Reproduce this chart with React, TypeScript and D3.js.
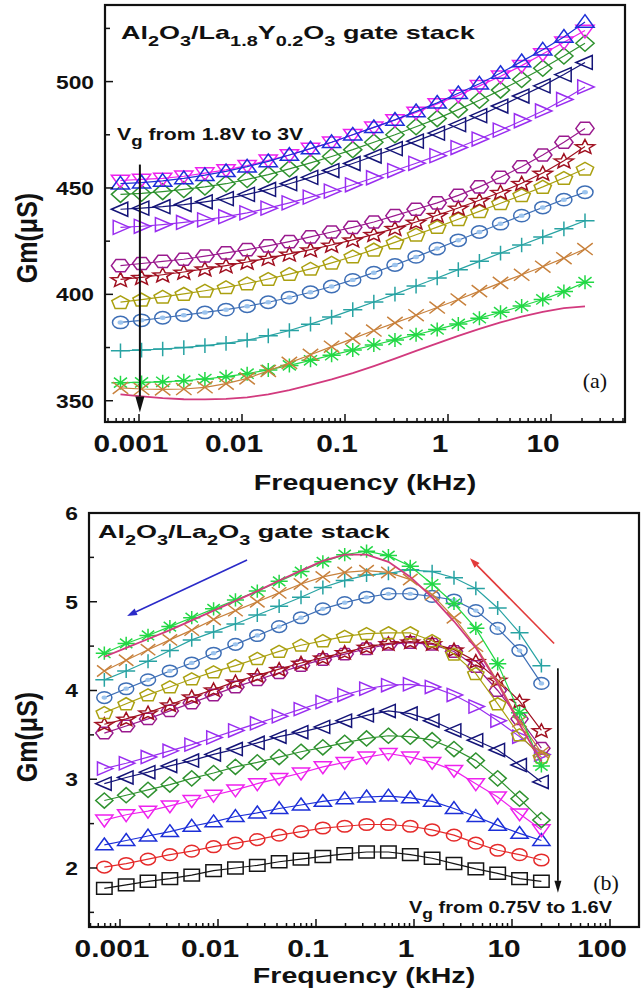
import React from "react";
import * as d3 from "d3";

// ---------------- DATA ----------------
// Panel (a): Al2O3/La1.8Y0.2O3, Gm (uS) vs frequency (kHz)
const freqA = [0.000661, 0.001059, 0.001698, 0.002723, 0.004365, 0.006998, 0.01122, 0.01799, 0.02884, 0.04624, 0.07413, 0.1189, 0.1905, 0.3055, 0.4898, 0.7852, 1.259, 2.018, 3.236, 5.188, 8.318, 13.34, 21.38];
const triUpA = [452, 452.5, 453.3, 454.5, 456, 457.8, 460, 462.5, 465.5, 468.5, 471.5, 475, 478.5, 482, 486, 490, 494.5, 499, 504, 509.5, 515, 521, 528];
const triDownA = [453.5, 454, 454.5, 455.5, 457, 458.5, 460.5, 463, 465.5, 468.5, 471.5, 475, 478.5, 482, 485.5, 489.5, 493.5, 498, 502.5, 507.5, 513, 518.5, 524];
const diamondA = [447, 447.5, 448.3, 449.3, 450.5, 452, 454, 456.3, 459, 461.8, 464.8, 468, 471.5, 475, 478.8, 482.6, 486.8, 491.2, 496, 501, 506.3, 512, 518];
const triLeftA = [440, 440.5, 441.2, 442.2, 443.5, 445, 447, 449.3, 452, 455, 458.2, 461.5, 465, 468.5, 472, 475.8, 479.8, 484, 488.5, 493.2, 498, 503.3, 509];
const triRightA = [431.5, 432, 432.8, 433.8, 435, 436.5, 438.3, 440.5, 443, 445.7, 448.5, 451.5, 454.8, 458.2, 461.6, 465.2, 469, 473, 477.2, 481.6, 486.2, 491.6, 497.5];
const hexA = [413.5, 414.5, 415.5, 416.5, 418, 419.5, 421, 422.8, 424.8, 427, 429.3, 431.5, 434, 437, 440, 443, 446.5, 450.5, 455, 460, 465.5, 471.5, 478];
const starA = [407, 408, 409.2, 410.5, 412, 413.5, 415.2, 417, 419, 421, 423.2, 425.6, 428.2, 431, 434, 437.2, 440.6, 444.2, 448, 452.2, 457, 462.8, 469.5];
const pentA = [396.3, 397.5, 398.8, 400.2, 401.7, 403.3, 405.1, 407.2, 409.5, 412, 414.8, 417.8, 421, 424.4, 428, 431.6, 435.3, 439, 442.8, 446.6, 450.5, 454.7, 459];
const circA = [386.8, 387.8, 389, 390.2, 391.5, 392.8, 394.4, 396.3, 398.5, 401, 403.7, 406.8, 410.2, 413.8, 417.6, 421.5, 425.4, 429.3, 433.2, 437, 440.8, 444.5, 448];
const plusA = [373.5, 373.8, 374.3, 375, 375.9, 377, 378.5, 380.5, 383, 386, 389.3, 392.8, 396.4, 400.1, 403.9, 407.7, 411.6, 415.5, 419.4, 423.2, 427, 430.8, 434.6];
const crossA = [356, 355.5, 355.3, 355.5, 356.3, 358, 360.5, 364, 367.8, 371.6, 375.4, 379.2, 383, 386.6, 390.2, 393.8, 397.6, 401.5, 405.4, 409.2, 413, 417, 421.3];
const asterA = [358.5, 358.6, 358.9, 359.4, 360.2, 361.3, 362.7, 364.5, 366.6, 369, 371.4, 373.8, 376.2, 378.6, 381, 383.5, 386.1, 388.8, 391.6, 394.5, 397.6, 401.3, 405.7];
const lineA = [353, 352, 351.2, 350.7, 350.6, 350.9, 351.6, 353, 355, 357.4, 360, 363, 366.3, 369.8, 373.4, 377, 380.5, 383.8, 386.8, 389.5, 391.8, 393.5, 394.3];

// Panel (b): Al2O3/La2O3, Gm (uS) vs frequency (kHz)
const freqB = [0.000692, 0.001156, 0.001932, 0.003228, 0.005395, 0.009016, 0.01507, 0.02518, 0.04207, 0.07031, 0.1175, 0.1963, 0.3281, 0.5483, 0.9162, 1.531, 2.559, 4.276, 7.145, 11.94, 19.95];
const squareB = [1.77, 1.81, 1.85, 1.88, 1.92, 1.97, 2.0, 2.03, 2.07, 2.1, 2.13, 2.16, 2.18, 2.18, 2.15, 2.11, 2.05, 1.99, 1.94, 1.88, 1.85];
const circRedB = [2.01, 2.05, 2.1, 2.15, 2.19, 2.24, 2.28, 2.32, 2.37, 2.41, 2.45, 2.47, 2.49, 2.49, 2.47, 2.43, 2.37, 2.28, 2.2, 2.15, 2.09];
const triUpB = [2.26, 2.31, 2.36, 2.41, 2.47, 2.52, 2.58, 2.62, 2.67, 2.71, 2.75, 2.78, 2.8, 2.81, 2.79, 2.75, 2.67, 2.58, 2.48, 2.39, 2.31];
const triDownB = [2.54, 2.6, 2.64, 2.7, 2.76, 2.82, 2.88, 2.95, 3.01, 3.07, 3.14, 3.19, 3.25, 3.29, 3.25, 3.19, 3.1, 2.95, 2.8, 2.61, 2.43];
const diamondB = [2.76, 2.82, 2.88, 2.94, 3.01, 3.07, 3.14, 3.19, 3.25, 3.31, 3.36, 3.41, 3.46, 3.49, 3.48, 3.44, 3.34, 3.21, 3.01, 2.78, 2.54];
const triLeftB = [2.95, 3.02, 3.08, 3.15, 3.21, 3.28, 3.34, 3.41, 3.48, 3.53, 3.59, 3.66, 3.72, 3.77, 3.74, 3.66, 3.55, 3.44, 3.33, 3.16, 2.97];
const triRightB = [3.12, 3.18, 3.25, 3.32, 3.39, 3.47, 3.55, 3.63, 3.71, 3.79, 3.87, 3.95, 4.02, 4.06, 4.07, 4.04, 3.95, 3.82, 3.66, 3.48, 3.28];
const hexB = [3.52, 3.6, 3.68, 3.77, 3.86, 3.95, 4.04, 4.12, 4.2, 4.28, 4.35, 4.41, 4.47, 4.52, 4.54, 4.52, 4.44, 4.27, 4.0, 3.68, 3.35];
const starB = [3.62, 3.68, 3.75, 3.84, 3.93, 4.01, 4.1, 4.17, 4.24, 4.31, 4.37, 4.43, 4.49, 4.53, 4.55, 4.53, 4.46, 4.33, 4.12, 3.88, 3.55];
const pentB = [3.75, 3.85, 3.95, 4.04, 4.13, 4.21, 4.28, 4.36, 4.44, 4.51, 4.56, 4.61, 4.64, 4.65, 4.65, 4.56, 4.41, 4.19, 3.85, 3.5, 3.25];
const circB = [3.92, 4.02, 4.12, 4.22, 4.31, 4.42, 4.52, 4.62, 4.72, 4.82, 4.92, 4.99, 5.05, 5.09, 5.09, 5.06, 5.02, 4.9, 4.7, 4.45, 4.08];
const plusB = [4.12, 4.22, 4.33, 4.45, 4.57, 4.66, 4.75, 4.85, 4.95, 5.05, 5.16, 5.24, 5.3, 5.32, 5.36, 5.34, 5.27, 5.15, 4.93, 4.65, 4.28];
const crossB = [4.22, 4.34, 4.46, 4.57, 4.68, 4.8, 4.9, 5.0, 5.1, 5.2, 5.28, 5.33, 5.35, 5.33, 5.25, 5.08, 4.82, 4.5, 4.1, 3.65, 3.3];
const asterB = [4.42, 4.53, 4.62, 4.72, 4.82, 4.92, 5.02, 5.12, 5.23, 5.34, 5.45, 5.53, 5.57, 5.52, 5.4, 5.2, 4.98, 4.7, 4.3, 3.75, 3.15];
const lineB = [4.38, 4.48, 4.58, 4.68, 4.79, 4.9, 5.01, 5.12, 5.24, 5.35, 5.46, 5.53, 5.53, 5.45, 5.28, 5.05, 4.78, 4.48, 4.08, 3.62, 3.2];

// Axis ticks
const xTickValsA = [0.001, 0.01, 0.1, 1, 10];
const xTickLabelsA = ["0.001", "0.01", "0.1", "1", "10"];
const xTickValsB = [0.001, 0.01, 0.1, 1, 10, 100];
const xTickLabelsB = ["0.001", "0.01", "0.1", "1", "10", "100"];
const yMajorA = [350, 400, 450, 500];
const yMinorA = [375, 425, 475, 525];
const yMajorB = [2, 3, 4, 5, 6];
const yMinorB = [1.5, 2.5, 3.5, 4.5, 5.5];

// Annotation arrows (data units: [freq kHz, Gm])
const arrowA = [[0.00102, 461], [0.00102, 344.5]];
const arrowBv = [[29.4, 4.25], [29.4, 1.72]];
const arrowBblue = [[0.0198, 5.47], [0.00118, 4.84]];
const arrowBred = [[26.9, 4.53], [3.73, 5.49]];

// ---------------- STYLE ----------------
const SANS = "'Liberation Sans', Arial, Helvetica, sans-serif";
const SERIF = "'Liberation Serif', 'Times New Roman', serif";

type Shape = "square" | "circle" | "circleDot" | "triUp" | "triDown" | "diamond" | "triLeft" | "triRight" | "hexagon" | "star" | "pentagon" | "plus" | "cross" | "aster" | "none";

function poly(pts: number[][]) {
  return "M" + pts.map((p) => p[0].toFixed(2) + "," + p[1].toFixed(2)).join("L") + "Z";
}

function shapePath(shape: Shape, r: number): string {
  switch (shape) {
    case "square": {
      const s = r * 0.9;
      return poly([[-s, -s], [s, -s], [s, s], [-s, s]]);
    }
    case "circle":
    case "circleDot": {
      const c = r * 0.88;
      return `M${c},0A${c},${c} 0 1,1 ${-c},0A${c},${c} 0 1,1 ${c},0Z`;
    }
    case "triUp":
      return poly([[0, -r * 1.05], [r, r * 0.75], [-r, r * 0.75]]);
    case "triDown":
      return poly([[0, r * 1.05], [r, -r * 0.75], [-r, -r * 0.75]]);
    case "triLeft":
      return poly([[-r * 1.0, 0], [r * 0.8, -r], [r * 0.8, r]]);
    case "triRight":
      return poly([[r * 1.0, 0], [-r * 0.8, -r], [-r * 0.8, r]]);
    case "diamond":
      return poly([[0, -r * 1.15], [r, 0], [0, r * 1.15], [-r, 0]]);
    case "hexagon": {
      const pts = d3.range(6).map((k) => [r * Math.cos((k * Math.PI) / 3), r * Math.sin((k * Math.PI) / 3)]);
      return poly(pts);
    }
    case "pentagon": {
      const pts = d3.range(5).map((k) => {
        const a = -Math.PI / 2 + (k * 2 * Math.PI) / 5;
        return [r * Math.cos(a), r * Math.sin(a) + r * 0.08];
      });
      return poly(pts);
    }
    case "star": {
      const pts = d3.range(10).map((k) => {
        const a = -Math.PI / 2 + (k * Math.PI) / 5;
        const rr = k % 2 === 0 ? r * 1.1 : r * 0.48;
        return [rr * Math.cos(a), rr * Math.sin(a) + r * 0.1];
      });
      return poly(pts);
    }
    case "plus":
      return `M${-r * 1.05},0H${r * 1.05}M0,${-r * 1.05}V${r * 1.05}`;
    case "cross": {
      const s = r * 0.85;
      return `M${-s},${-s}L${s},${s}M${-s},${s}L${s},${-s}`;
    }
    case "aster": {
      const s = r * 1.0;
      const d = s * 0.72;
      return `M${-s},0H${s}M0,${-s}V${s}M${-d},${-d}L${d},${d}M${-d},${d}L${d},${-d}`;
    }
    default:
      return "";
  }
}

type Series = { vals: number[]; shape: Shape; color: string; lw?: number };

const seriesA: Series[] = [
  { vals: lineA, shape: "none", color: "#d23a7e", lw: 1.8 },
  { vals: asterA, shape: "aster", color: "#22d845" },
  { vals: crossA, shape: "cross", color: "#c8813c" },
  { vals: plusA, shape: "plus", color: "#28a3a3" },
  { vals: circA, shape: "circleDot", color: "#3e6fb6" },
  { vals: pentA, shape: "pentagon", color: "#aaa010" },
  { vals: starA, shape: "star", color: "#a01020" },
  { vals: hexA, shape: "hexagon", color: "#9a1a8e" },
  { vals: triRightA, shape: "triRight", color: "#9a2ef0" },
  { vals: triLeftA, shape: "triLeft", color: "#141478" },
  { vals: diamondA, shape: "diamond", color: "#2f922f" },
  { vals: triDownA, shape: "triDown", color: "#ee22ee" },
  { vals: triUpA, shape: "triUp", color: "#1c2fd8" },
];

const seriesB: Series[] = [
  { vals: squareB, shape: "square", color: "#151515" },
  { vals: circRedB, shape: "circle", color: "#e52a2a" },
  { vals: triUpB, shape: "triUp", color: "#1c2fd8" },
  { vals: triDownB, shape: "triDown", color: "#ee22ee" },
  { vals: diamondB, shape: "diamond", color: "#2f922f" },
  { vals: triLeftB, shape: "triLeft", color: "#141478" },
  { vals: triRightB, shape: "triRight", color: "#9a2ef0" },
  { vals: hexB, shape: "hexagon", color: "#9a1a8e" },
  { vals: starB, shape: "star", color: "#a01020" },
  { vals: pentB, shape: "pentagon", color: "#aaa010" },
  { vals: circB, shape: "circleDot", color: "#3e6fb6" },
  { vals: plusB, shape: "plus", color: "#28a3a3" },
  { vals: crossB, shape: "cross", color: "#c8813c" },
  { vals: asterB, shape: "aster", color: "#22d845" },
  { vals: lineB, shape: "none", color: "#d23a7e", lw: 1.8 },
];

// rich text with subscripts: parts [text, isSub]
function Rich({ parts, subSize, subDy }: { parts: [string, boolean][]; subSize: number; subDy: number }) {
  let cur = 0;
  return (
    <>
      {parts.map(([t, sub], i) => {
        const target = sub ? subDy : 0;
        const dy = target - cur;
        cur = target;
        return (
          <tspan key={i} dy={dy} fontSize={sub ? subSize : undefined}>
            {t}
          </tspan>
        );
      })}
    </>
  );
}

function Arrow({ p1, p2, color, w = 1.6, headL = 13, headW = 4.5 }: { p1: number[]; p2: number[]; color: string; w?: number; headL?: number; headW?: number }) {
  const [x1, y1] = p1;
  const [x2, y2] = p2;
  const a = Math.atan2(y2 - y1, x2 - x1);
  const bx = x2 - headL * Math.cos(a);
  const by = y2 - headL * Math.sin(a);
  const nx = -Math.sin(a) * headW;
  const ny = Math.cos(a) * headW;
  return (
    <g>
      <line x1={x1} y1={y1} x2={bx} y2={by} stroke={color} strokeWidth={w} />
      <path d={`M${x2},${y2}L${bx + nx},${by + ny}L${bx - nx},${by - ny}Z`} fill={color} />
    </g>
  );
}

type PanelProps = {
  id: string;
  x: d3.ScaleLogarithmic<number, number>;
  y: d3.ScaleLinear<number, number>;
  freq: number[];
  series: Series[];
  xTickVals: number[];
  xTickLabels: string[];
  yMajor: number[];
  yMinor: number[];
  yFmt: (v: number) => string;
  xLabelY: number;
  xTitleY: number;
  mr: number;
  msx: number;
  gmY: number;
};

function Panel(p: PanelProps) {
  const [x0, x1] = p.x.range();
  const [yb, yt] = p.y.range();
  const line = d3
    .line<number>()
    .x((_, i) => p.x(p.freq[i]))
    .y((v) => p.y(v));
  // log minor ticks
  const [d0, d1] = p.x.domain();
  const ticks: { v: number; major: boolean }[] = [];
  for (let e = Math.floor(Math.log10(d0)); e <= Math.ceil(Math.log10(d1)); e++) {
    for (let m = 1; m <= 9; m++) {
      const v = m * Math.pow(10, e);
      if (v >= d0 && v <= d1) ticks.push({ v, major: m === 1 });
    }
  }
  return (
    <g>
      <defs>
        <clipPath id={p.id}>
          <rect x={x0} y={yt} width={x1 - x0} height={yb - yt} />
        </clipPath>
      </defs>
      <g clipPath={`url(#${p.id})`}>
        {p.series.map((s, si) => (
          <g key={si}>
            <path d={line(s.vals) || ""} fill="none" stroke={s.color} strokeWidth={s.lw ?? 1.2} />
            {s.shape !== "none" &&
              s.vals.map((v, i) => (
                <g key={i} transform={`translate(${p.x(p.freq[i]).toFixed(2)},${p.y(v).toFixed(2)}) scale(${p.msx},1)`}>
                  <path d={shapePath(s.shape, p.mr)} fill="none" stroke={s.color} strokeWidth={1.5} vectorEffect="non-scaling-stroke" />
                  {s.shape === "circleDot" && <circle r={p.mr * 0.32} fill="#9cc4ee" />}
                </g>
              ))}
          </g>
        ))}
      </g>
      {/* axes box */}
      <rect x={x0} y={yt} width={x1 - x0} height={yb - yt} fill="none" stroke="#111" strokeWidth={2.2} />
      {/* x ticks */}
      {ticks.map((t, i) => (
        <line key={i} x1={p.x(t.v)} x2={p.x(t.v)} y1={yb} y2={yb - (t.major ? 8 : 4)} stroke="#111" strokeWidth={1.5} />
      ))}
      {p.xTickVals.map((v, i) => (
        <text key={i} transform={`translate(${p.x(v) - 8},${p.xLabelY}) scale(1.3,1)`} textAnchor="middle" fontFamily={SANS} fontWeight="bold" fontSize={23} fill="#111">
          {p.xTickLabels[i]}
        </text>
      ))}
      {/* y ticks */}
      {p.yMajor.map((v, i) => (
        <g key={"M" + i}>
          <line x1={x0} x2={x0 + 8} y1={p.y(v)} y2={p.y(v)} stroke="#111" strokeWidth={1.5} />
          <text transform={`translate(${x0 - 11},${p.y(v) + 7}) scale(1.2,1)`} textAnchor="end" fontFamily={SANS} fontWeight="bold" fontSize={19} fill="#111">
            {p.yFmt(v)}
          </text>
        </g>
      ))}
      {p.yMinor.map((v, i) => (
        <line key={"m" + i} x1={x0} x2={x0 + 5} y1={p.y(v)} y2={p.y(v)} stroke="#111" strokeWidth={1.5} />
      ))}
      {/* axis titles */}
      <text transform={`translate(${(x0 + x1) / 2},${p.xTitleY}) scale(1.3,1)`} textAnchor="middle" fontFamily={SANS} fontWeight="bold" fontSize={22} fill="#111">
        Frequency (kHz)
      </text>
      <text transform={`translate(37,${p.gmY}) rotate(-90) scale(1,1.2)`} textAnchor="middle" fontFamily={SANS} fontWeight="bold" fontSize={25} fill="#111">
        Gm(μS)
      </text>
    </g>
  );
}

export default function App() {
  const xA = d3.scaleLog().domain([Math.pow(10, -3.3301), Math.pow(10, 1.7184)]).range([105, 625]);
  const yA = d3.scaleLinear().domain([340, 536]).range([422, 5]);
  const xB = d3.scaleLog().domain([Math.pow(10, -3.3163), Math.pow(10, 2.2959)]).range([89, 639]);
  const yB = d3.scaleLinear().domain([1.335, 6]).range([927, 513]);

  const pt = (xs: any, ys: any, q: number[]) => [xs(q[0]), ys(q[1])];

  return (
    <svg width={641} height={994} viewBox="0 0 641 994" style={{ position: "absolute", left: 0, top: 0, background: "#fff" }}>
      <rect x={0} y={0} width={641} height={994} fill="#fff" />
      <Panel id="clipA" x={xA} y={yA} freq={freqA} series={seriesA} xTickVals={xTickValsA} xTickLabels={xTickLabelsA} yMajor={yMajorA} yMinor={yMinorA} yFmt={(v) => String(v)} xLabelY={452} xTitleY={490} mr={7} msx={1.3} gmY={238} />
      <Panel id="clipB" x={xB} y={yB} freq={freqB} series={seriesB} xTickVals={xTickValsB} xTickLabels={xTickLabelsB} yMajor={yMajorB} yMinor={yMinorB} yFmt={(v) => String(v)} xLabelY={957} xTitleY={983} mr={6.6} msx={1.3} gmY={737} />

      {/* Panel (a) annotations */}
      <text transform="translate(121,39) scale(1.42,1)" fontFamily={SANS} fontWeight="bold" fontSize={19} fill="#111">
        <Rich
          parts={[["Al", false], ["2", true], ["O", false], ["3", true], ["/La", false], ["1.8", true], ["Y", false], ["0.2", true], ["O", false], ["3", true], [" gate stack", false]]}
          subSize={14}
          subDy={7}
        />
      </text>
      <text transform="translate(117,140) scale(1.33,1)" fontFamily={SANS} fontWeight="bold" fontSize={16} fill="#111">
        <Rich parts={[["V", false], ["g", true], [" from 1.8V to 3V", false]]} subSize={14} subDy={6} />
      </text>
      <Arrow p1={pt(xA, yA, arrowA[0])} p2={pt(xA, yA, arrowA[1])} color="#111" w={2} headL={16} headW={4.5} />
      <text x={595} y={388} textAnchor="middle" fontFamily={SERIF} fontSize={22} fill="#111">
        (a)
      </text>

      {/* Panel (b) annotations */}
      <text transform="translate(98,538) scale(1.42,1)" fontFamily={SANS} fontWeight="bold" fontSize={19} fill="#111">
        <Rich parts={[["Al", false], ["2", true], ["O", false], ["3", true], ["/La", false], ["2", true], ["O", false], ["3", true], [" gate stack", false]]} subSize={14} subDy={7} />
      </text>
      <Arrow p1={pt(xB, yB, arrowBblue[0])} p2={pt(xB, yB, arrowBblue[1])} color="#2a2ac8" w={1.6} headL={10} headW={3.5} />
      <Arrow p1={pt(xB, yB, arrowBred[0])} p2={pt(xB, yB, arrowBred[1])} color="#e23a3a" w={1.6} headL={10} headW={3.5} />
      <Arrow p1={pt(xB, yB, arrowBv[0])} p2={pt(xB, yB, arrowBv[1])} color="#111" w={1.8} headL={12} headW={3.5} />
      <text transform="translate(409,913) scale(1.25,1)" fontFamily={SANS} fontWeight="bold" fontSize={16} fill="#111">
        <Rich parts={[["V", false], ["g", true], [" from  0.75V to 1.6V", false]]} subSize={14} subDy={6} />
      </text>
      <text x={606} y={890} textAnchor="middle" fontFamily={SERIF} fontSize={22} fill="#111">
        (b)
      </text>
    </svg>
  );
}
